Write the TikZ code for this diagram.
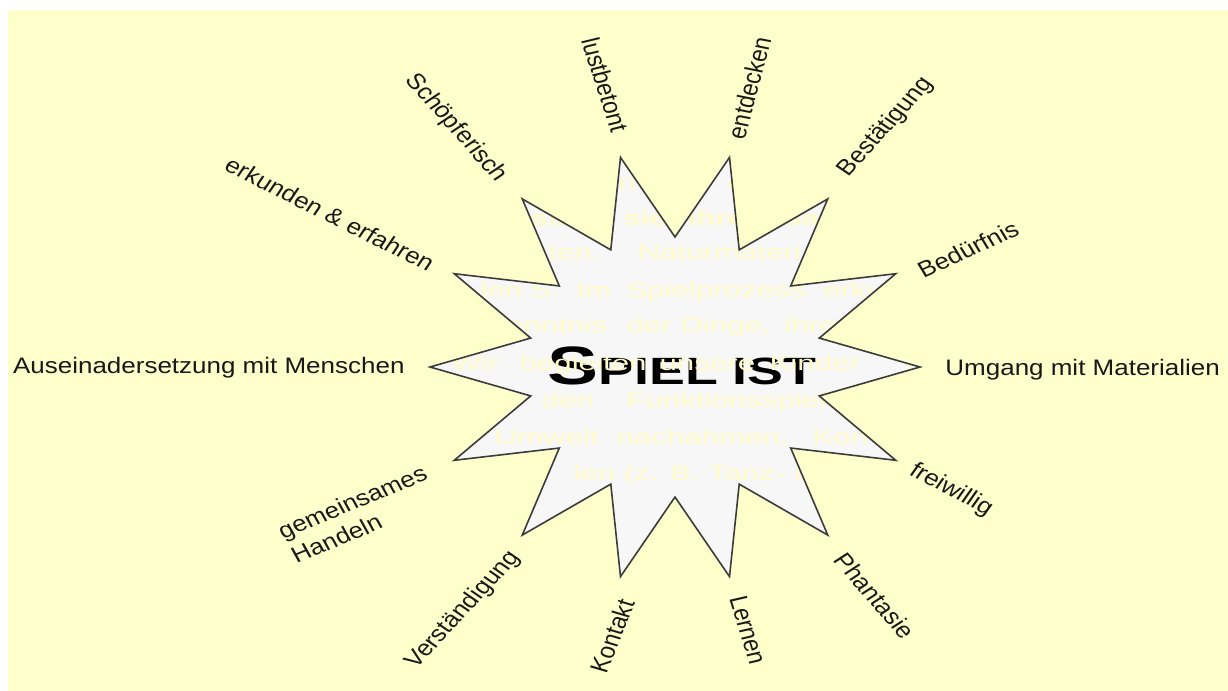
\documentclass[tikz,border=0pt]{standalone}
\usepackage{fontspec}
\setmainfont{Liberation Sans}
\definecolor{bg}{RGB}{255,255,204}
\definecolor{ghostc}{RGB}{255,252,200}
\definecolor{starfill}{RGB}{247,247,247}
\definecolor{ink}{RGB}{25,25,25}
\definecolor{starline}{RGB}{60,60,60}
\begin{document}
\begin{tikzpicture}[x=0.5pt,y=-0.5pt,
  lbl/.style={font=\fontsize{11.2}{13.5}\selectfont, text=ink, inner sep=0pt},
  ghost/.style={font=\fontsize{10.5}{12}\selectfont, text=ghostc, inner sep=0pt, xscale=1.49},
  titlestyle/.style={font=\bfseries\fontsize{19}{20}\selectfont, text=black, inner sep=0pt, xscale=1.22},
  starline/.style={draw=starline, line width=0.8pt, line join=miter}]
\path[use as bounding box, fill=white] (0,0) rectangle (1228,691);
\fill[bg] (8,10) rectangle (1228,691);
% star geometry
\foreach \k in {0,...,13}{
  \coordinate (o\k) at ({675+245*cos(\k*360/14)},{367-215*sin(\k*360/14)});
  \coordinate (i\k) at ({675+148*cos((\k+0.5)*360/14)},{367-130*sin((\k+0.5)*360/14)});
}
\fill[starfill] (o0)--(i0)--(o1)--(i1)--(o2)--(i2)--(o3)--(i3)--(o4)--(i4)--(o5)--(i5)--(o6)--(i6)--(o7)--(i7)--(o8)--(i8)--(o9)--(i9)--(o10)--(i10)--(o11)--(i11)--(o12)--(i12)--(o13)--(i13)--cycle;
% title
\begin{scope}[x=0.431034pt, transform canvas={xscale=1.16}]
  \node[titlestyle] (title) at (682,366) {{\fontsize{27}{27}\selectfont S}PIEL IST};
\end{scope}
% ghost text visible inside the star
\begin{scope}
  \clip (o0)--(i0)--(o1)--(i1)--(o2)--(i2)--(o3)--(i3)--(o4)--(i4)--(o5)--(i5)--(o6)--(i6)--(o7)--(i7)--(o8)--(i8)--(o9)--(i9)--(o10)--(i10)--(o11)--(i11)--(o12)--(i12)--(o13)--(i13)--cycle;
  \node[ghost, anchor=base west] (ga1) at (618,190) {n};
  \node[ghost, anchor=base west] (ga2) at (727,190) {o};
  \node[ghost, anchor=base west, font=\bfseries\fontsize{10.5}{12}\selectfont] (gb1) at (530,225) {ss};
  \node[ghost, anchor=base west, font=\bfseries\fontsize{10.5}{12}\selectfont] (gb2) at (623,225) {sie};
  \node[ghost, anchor=base west, font=\bfseries\fontsize{10.5}{12}\selectfont] (gb3) at (687,225) {ihre};
  \node[ghost, anchor=base west, font=\bfseries\fontsize{10.5}{12}\selectfont] (gb4) at (784,225) {sa};
  \node[ghost, anchor=base west] (gc1) at (548,259) {ten.};
  \node[ghost, anchor=base west] (gc2) at (637,259) {Naturmateri};
  \node[ghost, anchor=base west] (gd1) at (480,297) {len};
  \node[ghost, anchor=base west] (gd2) at (530,297) {S.};
  \node[ghost, anchor=base west] (gd3) at (576,297) {Im};
  \node[ghost, anchor=base west] (gd4) at (626,297) {Spielprozess};
  \node[ghost, anchor=base west] (gd5) at (823,297) {erku};
  \node[ghost, anchor=base west] (ge1) at (490,332) {kenntnis};
  \node[ghost, anchor=base west] (ge2) at (626,332) {der};
  \node[ghost, anchor=base west] (ge3) at (680,332) {Dinge,};
  \node[ghost, anchor=base west] (ge4) at (784,332) {ihre};
  \node[ghost, anchor=base west] (gf1) at (451,370) {Wir};
  \node[ghost, anchor=base west] (gf2) at (519,370) {begleiten};
  \node[ghost, anchor=base west] (gf3) at (659,370) {unsere};
  \node[ghost, anchor=base west] (gf4) at (769,370) {Kinder};
  \node[ghost, anchor=base west] (gf5) at (905,370) {b};
  \node[ghost, anchor=base west] (gg1) at (541,407) {den};
  \node[ghost, anchor=base west] (gg2) at (626,407) {Funktionsspiel};
  \node[ghost, anchor=base west] (gh1) at (494,444) {Umwelt};
  \node[ghost, anchor=base west] (gh2) at (616,444) {nachahmen,};
  \node[ghost, anchor=base west] (gh3) at (812,444) {Kon};
  \node[ghost, anchor=base west] (gi1) at (573,480) {len (z. B. Tanz- u};
\end{scope}
\draw[starline] (o0)--(i0)--(o1)--(i1)--(o2)--(i2)--(o3)--(i3)--(o4)--(i4)--(o5)--(i5)--(o6)--(i6)--(o7)--(i7)--(o8)--(i8)--(o9)--(i9)--(o10)--(i10)--(o11)--(i11)--(o12)--(i12)--(o13)--(i13)--cycle;
% labels
\begin{scope}[x=0.431034pt, transform canvas={xscale=1.16}]
  \node[lbl, anchor=east] (l1) at (405,368) {Auseinadersetzung mit Menschen};
  \node[lbl, anchor=west] (l2) at (945,370) {Umgang mit Materialien};
  \node[lbl, rotate=-30.2] (l3) at (330,214) {erkunden \& erfahren};
  \node[lbl, rotate=-52.3] (l4) at (456,128) {Schöpferisch};
  \node[lbl, rotate=-74.3] (l5) at (605,85) {lustbetont};
  \node[lbl, rotate=77] (l6) at (749,88) {entdecken};
  \node[lbl, rotate=51.7] (l7) at (886,127) {Bestätigung};
  \node[lbl, rotate=27.6] (l8) at (968,249) {Bedürfnis};
  \node[lbl, rotate=-31.3] (l9) at (951,490) {freiwillig};
  \node[lbl, rotate=-53.1] (l10) at (875,596) {Phantasie};
  \node[lbl, rotate=-75] (l11) at (748,630) {Lernen};
  \node[lbl, rotate=71] (l12) at (612,636) {Kontakt};
  \node[lbl, rotate=51.3] (l13) at (463,610) {Verständigung};
  \node[lbl, rotate=25.5, align=left] (l14) at (359,514) {gemeinsames\\Handeln};
\end{scope}
\end{tikzpicture}
\end{document}
